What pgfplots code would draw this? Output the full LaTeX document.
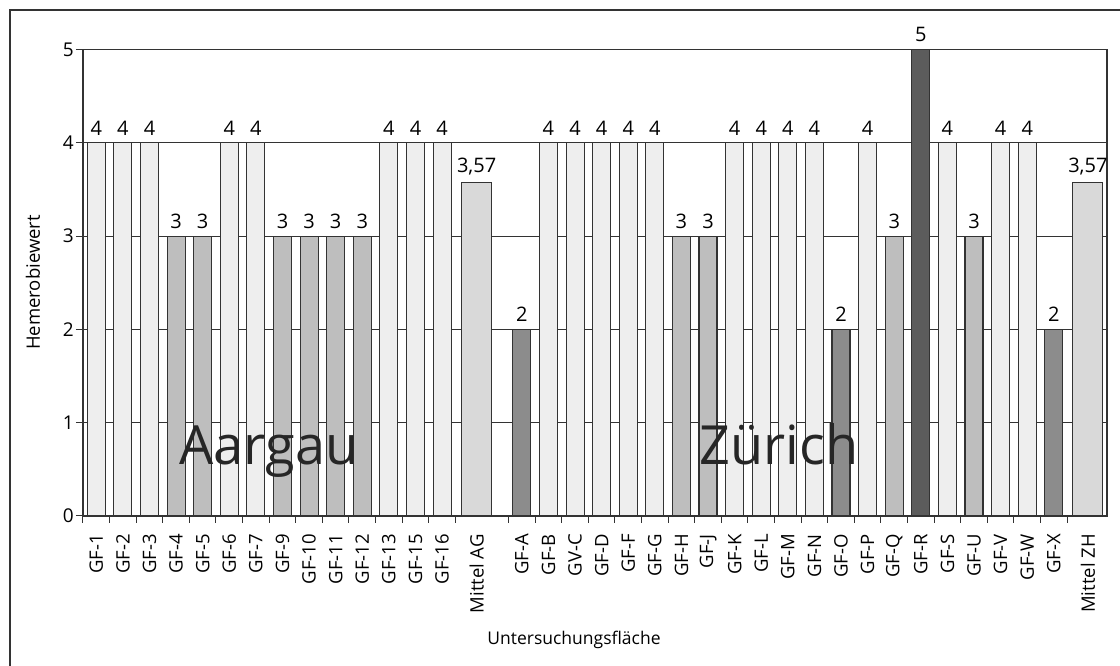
\documentclass[border=0pt]{standalone}
\usepackage{fontspec}
\setmainfont{Open Sans}
\usepackage{pgfplots}
\pgfplotsset{compat=1.18}
\definecolor{cFour}{HTML}{EEEEEE}
\definecolor{cThree}{HTML}{BEBEBE}
\definecolor{cTwo}{HTML}{8C8C8C}
\definecolor{cFive}{HTML}{5C5C5C}
\definecolor{cMean}{HTML}{D9D9D9}
\definecolor{cLine}{HTML}{333333}
\begin{document}
\begin{tikzpicture}[x=1pt,y=1pt]
\useasboundingbox (0,0) rectangle (1120,666);
\draw[line width=1.2pt, cLine] (10,-20) -- (10,656) -- (1140,656);
\begin{axis}[
  at={(83pt,150pt)}, anchor=south west,
  scale only axis, width=1024pt, height=466.5pt,
  xmin=-0.5, xmax=38.0, ymin=0, ymax=5,
  ybar, bar shift=0pt, bar width=18pt,
  axis line style={line width=1.2pt, cLine},
  ymajorgrids, major grid style={line width=1pt, cLine},
  ytick={0,1,2,3,4,5}, ytick pos=left, xtick pos=bottom,
  tick align=outside, major tick length=7pt, minor tick length=7pt,
  tick style={line width=1pt, cLine},
  major x tick style={draw=none},
  xtick={0,1,2,3,4,5,6,7,8,9,10,11,12,13,14.3,16,17,18,19,20,21,22,23,24,25,26,27,28,29,30,31,32,33,34,35,36,37.28},
  xticklabels={GF-1,GF-2,GF-3,GF-4,GF-5,GF-6,GF-7,GF-9,GF-10,GF-11,GF-12,GF-13,GF-15,GF-16,Mittel AG,GF-A,GF-B,GV-C,GF-D,GF-F,GF-G,GF-H,GF-J,GF-K,GF-L,GF-M,GF-N,GF-O,GF-P,GF-Q,GF-R,GF-S,GF-U,GF-V,GF-W,GF-X,Mittel ZH},
  minor xtick={-0.5,0.5,1.5,2.5,3.5,4.5,5.5,6.5,7.5,8.5,9.5,10.5,11.5,12.5,13.5,15.5,16.5,17.5,18.5,19.5,20.5,21.5,22.5,23.5,24.5,25.5,26.5,27.5,28.5,29.5,30.5,31.5,32.5,33.5,34.5,35.5,36.5},
  xticklabel style={rotate=90, anchor=east, font=\fontsize{18.5}{18.5}\selectfont, inner sep=0pt},
  xticklabel shift=11pt,
  yticklabel style={font=\fontsize{19}{19}\selectfont, inner sep=2pt},
  /pgf/number format/assume math mode=true,
  /pgf/number format/use comma,
  nodes near coords,
  every node near coord/.append style={font=\fontsize{20}{20}\selectfont, inner sep=0pt, anchor=south, yshift=7pt, text=black},
  clip=false,
]
\addplot[fill=cFour, draw=cLine, line width=1.1pt] coordinates {
  (0,4) (1,4) (2,4) (5,4) (6,4) (11,4) (12,4) (13,4)
  (17,4) (18,4) (19,4) (20,4) (21,4) (24,4) (25,4) (26,4) (27,4) (29,4) (32,4) (34,4) (35,4)};
\addplot[fill=cThree, draw=cLine, line width=1.1pt] coordinates {
  (3,3) (4,3) (7,3) (8,3) (9,3) (10,3) (22,3) (23,3) (30,3) (33,3)};
\addplot[fill=cTwo, draw=cLine, line width=1.1pt] coordinates {
  (16,2) (28,2) (36,2)};
\addplot[fill=cFive, draw=cLine, line width=1.1pt] coordinates {
  (31,5)};
\addplot[fill=cMean, draw=cLine, line width=1.1pt, bar width=30pt] coordinates {
  (14.3,3.57) (37.28,3.57)};
\end{axis}
\node[rotate=90, font=\fontsize{18.5}{18.5}\selectfont] at (33,383.5) {Hemerobiewert};
\node[anchor=base, font=\fontsize{17.5}{17.5}\selectfont] at (574,21) {Untersuchungsfläche};
\node[anchor=base, font=\fontsize{54}{54}\selectfont, text=black!85] at (269,201) {Aargau};
\node[anchor=base, font=\fontsize{54}{54}\selectfont, text=black!85] at (779,201) {Zürich};
\end{tikzpicture}
\end{document}
